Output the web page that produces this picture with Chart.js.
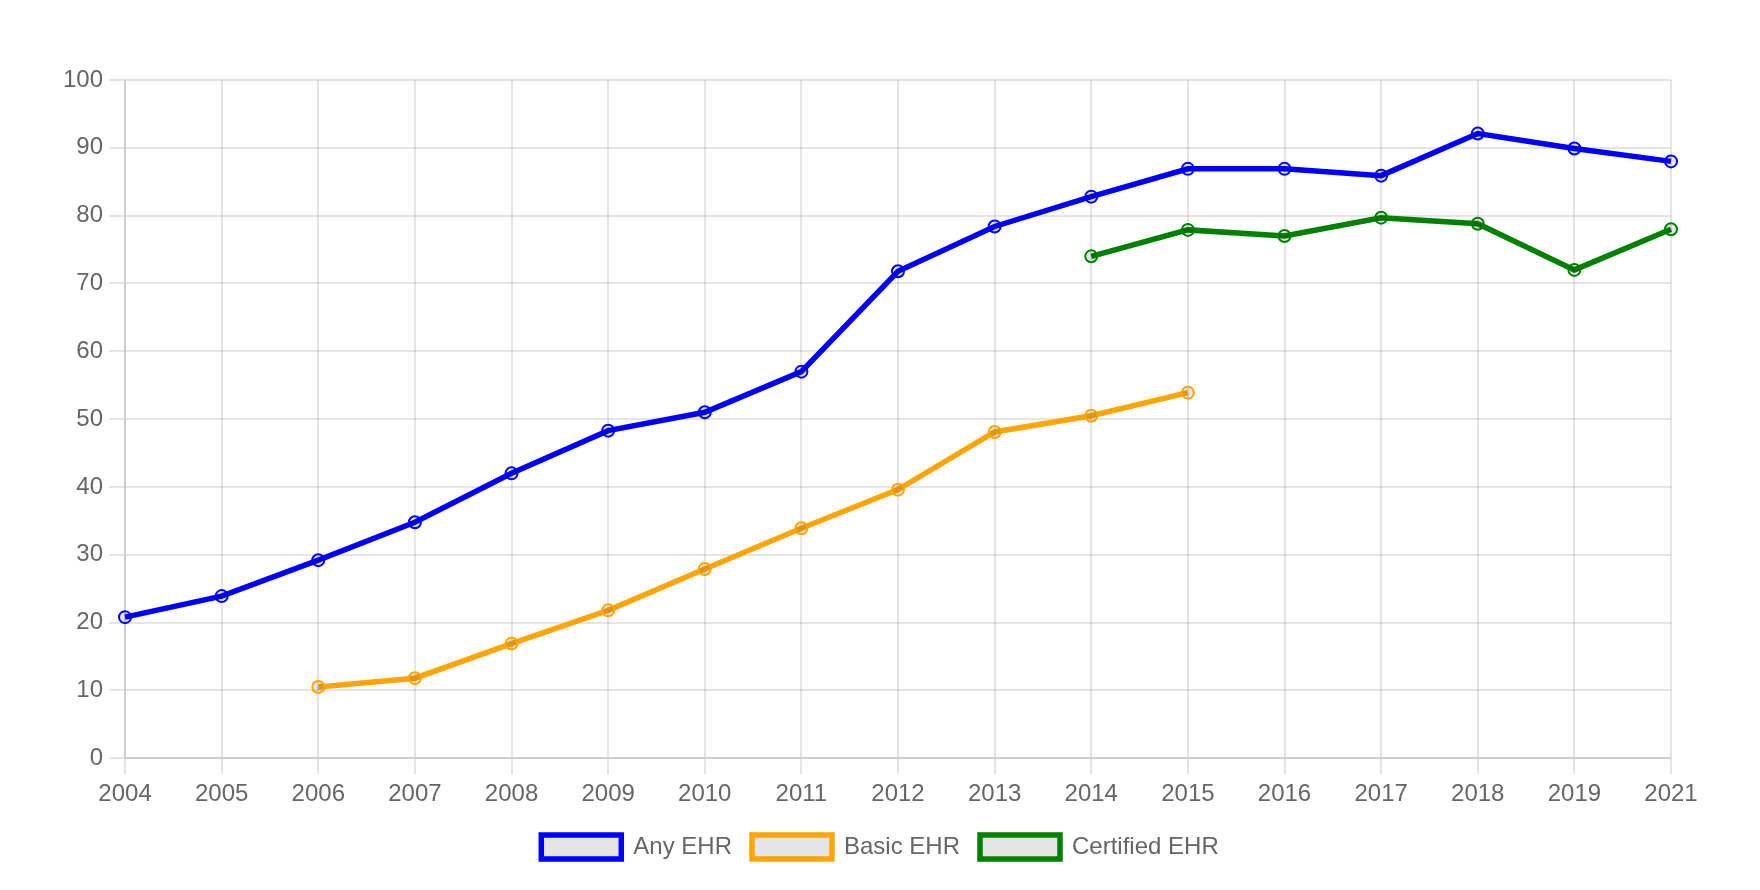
<!DOCTYPE html>
<html>
<head>
<meta charset="utf-8">
<script src="https://cdn.jsdelivr.net/npm/chart.js@4/dist/chart.umd.min.js"></script>
<style>
    html, body { margin: 0; padding: 0; background: #fff; }
    #wrap { width: 1760px; height: 890px; }
</style>
</head>
<body>
<div id="wrap"><canvas id="myChart"></canvas></div>
<script>
// years on the x axis (no 2020 survey)
const years = ['2004', '2005', '2006', '2007', '2008', '2009', '2010', '2011', '2012',
               '2013', '2014', '2015', '2016', '2017', '2018', '2019', '2021'];

// percent of office-based physicians
const anyEHR = [20.8, 23.9, 29.2, 34.8, 42.0, 48.3, 51.0, 57.0, 71.8,
                78.4, 82.8, 86.9, 86.9, 85.9, 92.1, 89.9, 88.0];
const basicEHR = [null, null, 10.5, 11.8, 16.9, 21.8, 27.9, 33.9, 39.6,
                  48.1, 50.5, 53.9, null, null, null, null, null];
const certifiedEHR = [null, null, null, null, null, null, null, null, null,
                      null, 74.0, 77.9, 77.0, 79.7, 78.8, 72.0, 78.0];

const yTicks = [0, 10, 20, 30, 40, 50, 60, 70, 80, 90, 100];

Chart.defaults.font.family = '"Liberation Sans", Arial, Helvetica, sans-serif';
Chart.defaults.font.size = 24;
Chart.defaults.color = '#666';

function line(label, data, color) {
    return {
        label: label,
        data: data,
        borderColor: color,
        backgroundColor: 'rgba(0, 0, 0, 0.1)',
        borderWidth: 5.5,
        pointRadius: 6,
        pointBorderWidth: 2,
        pointBackgroundColor: 'rgba(0, 0, 0, 0.1)',
        tension: 0,
        fill: false
    };
}

// keep the legend centred on the whole canvas, not on the padded area
const centerLegend = {
    id: 'centerLegend',
    afterLayout(chart) {
        const lg = chart.legend;
        if (!lg) return;
        lg.left = 0;
        lg.right = chart.width;
        lg.width = chart.width;
        if (lg.adjustHitBoxes) lg.adjustHitBoxes();
    }
};

const ctx = document.getElementById('myChart');
new Chart(ctx, {
    type: 'line',
    data: {
        labels: years,
        datasets: [
            line('Any EHR', anyEHR, 'blue'),
            line('Basic EHR', basicEHR, 'orange'),
            line('Certified EHR', certifiedEHR, 'green')
        ]
    },
    options: {
        responsive: true,
        maintainAspectRatio: false,
        animation: false,
        layout: {
            padding: { top: 80, left: 57, right: 89, bottom: 21 }
        },
        scales: {
            x: {
                grid: { tickLength: 16, lineWidth: 2, color: 'rgba(0, 0, 0, 0.1)' },
                border: { width: 2 },
                ticks: { padding: 6, maxRotation: 0 }
            },
            y: {
                min: 0,
                max: 100,
                afterBuildTicks: axis => { axis.ticks = yTicks.map(v => ({ value: v })); },
                grid: { tickLength: 16, lineWidth: 2, color: 'rgba(0, 0, 0, 0.1)' },
                border: { width: 2 },
                ticks: { padding: 6 }
            }
        },
        plugins: {
            legend: {
                position: 'bottom',
                labels: {
                    boxWidth: 80,
                    boxHeight: 24,
                    padding: 20
                }
            },
            tooltip: { enabled: false }
        }
    },
    plugins: [centerLegend]
});
</script>
</body>
</html>
